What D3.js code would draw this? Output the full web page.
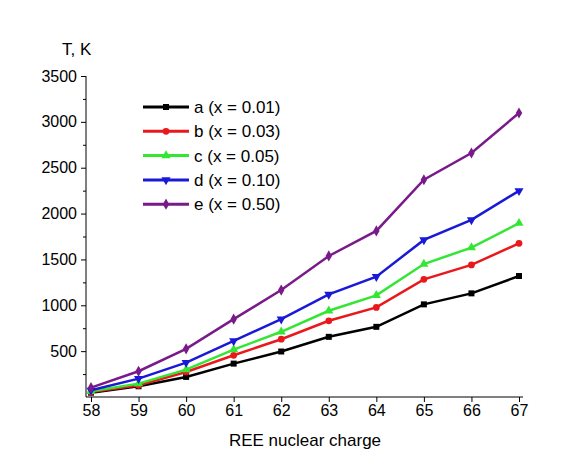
<!DOCTYPE html><html><head><script src="https://cdn.jsdelivr.net/npm/d3@7"></script>
<style>body{margin:0;background:#fff}text{font-family:Arial,"Liberation Sans",sans-serif}</style></head><body>
<svg id="c" width="563" height="471"></svg>
<script>
const charges=[58,59,60,61,62,63,64,65,66,67];
const labels=["a (x = 0.01)","b (x = 0.03)","c (x = 0.05)","d (x = 0.10)","e (x = 0.50)"];
const colors=["#000000","#e8191c","#33e633","#1a1ad6","#7a1a8a"];
const symbols=[d3.symbolSquare,d3.symbolCircle,d3.symbolTriangle,"down",d3.symbolDiamond];
const a=[47,117,219,364,496,656,765,1010,1130,1319];
const b=[55,128,273,455,630,831,977,1283,1440,1676];
const c=[62,146,299,517,711,940,1108,1450,1629,1895];
const d=[73,200,375,612,849,1119,1312,1713,1931,2248];
const e=[102,281,525,849,1166,1538,1811,2369,2660,3097];
const series=[a,b,c,d,e];
const yTicks=[500,1000,1500,2000,2500,3000,3500];
const svg=d3.select("#c");
const x=d3.scaleLinear().domain([58,67]).range([91,519]);
const y=d3.scaleLinear().domain([0,3500]).range([397,76]);
const g=svg.append("g");
g.append("line").attr("x1",86).attr("x2",523).attr("y1",397).attr("y2",397).attr("stroke","#000");
g.append("line").attr("x1",86).attr("x2",86).attr("y1",397).attr("y2",76).attr("stroke","#000");
const xa=svg.append("g").attr("transform","translate(0,397)").call(d3.axisBottom(x).tickValues(charges).tickFormat(d3.format("d")).tickSize(5).tickPadding(3));
xa.select(".domain").remove();
xa.selectAll("text").style("font-size","16px").style("font-family","Arial,'Liberation Sans',sans-serif").attr("fill","#000");
const ya=svg.append("g").attr("transform","translate(86,0)").call(d3.axisLeft(y).tickValues(yTicks).tickFormat(d3.format("d")).tickSize(5).tickPadding(4));
ya.select(".domain").remove();
ya.selectAll("text").style("font-size","16px").style("font-family","Arial,'Liberation Sans',sans-serif").attr("fill","#000");
svg.append("g").attr("transform","translate(86,0)").call(d3.axisLeft(y).tickValues(d3.range(250,3500,500)).tickSize(3).tickFormat("")).select(".domain").remove();
svg.append("text").attr("x",62).attr("y",55).style("font-size","17px").text("T, K");
svg.append("text").attr("x",305).attr("y",446).attr("text-anchor","middle").style("font-size","17px").text("REE nuclear charge");
function sym(i,s){ if(symbols[i]==="down") return d3.symbol().type(d3.symbolTriangle).size(s)(); return d3.symbol().type(symbols[i]).size(s)();}
const line=d3.line().x((v,k)=>x(charges[k])).y(v=>y(v));
series.forEach((s,i)=>{
  svg.append("path").attr("d",line(s)).attr("fill","none").attr("stroke",colors[i]).attr("stroke-width",2.5);
  svg.selectAll(null).data(s).enter().append("path").attr("d",sym(i,36))
   .attr("transform",(v,k)=>`translate(${x(charges[k])},${y(v)})`+(symbols[i]==="down"?" rotate(180)":""))
   .attr("fill",colors[i]);
  const ly=107+i*24.3;
  svg.append("line").attr("x1",143).attr("x2",189).attr("y1",ly).attr("y2",ly).attr("stroke",colors[i]).attr("stroke-width",3);
  svg.append("path").attr("d",sym(i,36)).attr("transform",`translate(166,${ly})`+(symbols[i]==="down"?" rotate(180)":"")).attr("fill",colors[i]);
  svg.append("text").attr("x",194).attr("y",ly+6).style("font-size","17px").text(labels[i]);
});
</script></body></html>
